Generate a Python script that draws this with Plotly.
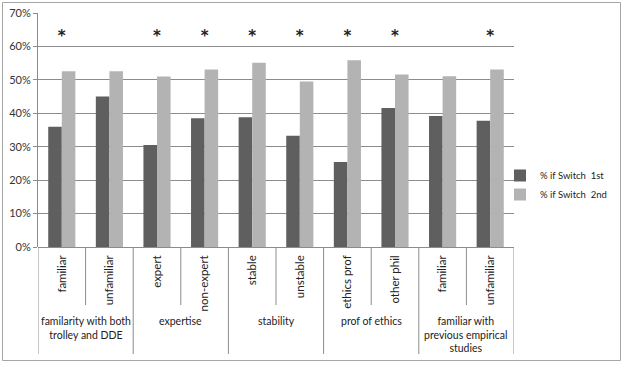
import plotly.graph_objects as go

sub_labels = ["familiar", "unfamiliar", "expert", "non-expert", "stable", "unstable",
              "ethics prof", "other phil", "familiar", "unfamiliar"]
group_labels = ["familarity with both<br>trolley and DDE", "expertise", "stability",
                "prof of ethics", "familiar with<br>previous empirical<br>studies"]
group_sizes = [2, 2, 2, 2, 2]
switch_1st = [0.360, 0.450, 0.305, 0.385, 0.388, 0.333, 0.254, 0.416, 0.392, 0.378]
switch_2nd = [0.526, 0.526, 0.510, 0.531, 0.551, 0.495, 0.559, 0.516, 0.511, 0.531]
significant = [True, False, True, True, True, True, True, True, False, True]
star_level = 0.626
series_names = ["% if Switch &nbsp;1st", "% if Switch &nbsp;2nd"]

W, H = 623, 386
L, R, T, B = 38, 109, 13, 139
PH = H - T - B
PW = W - L - R
FONT = "Lato"

xs = list(range(len(sub_labels)))

fig = go.Figure()
fig.add_trace(go.Bar(x=xs, y=switch_1st, name=series_names[0],
                     marker=dict(color="#5f5f5f", line=dict(width=0))))
fig.add_trace(go.Bar(x=xs, y=switch_2nd, name=series_names[1],
                     marker=dict(color="#b3b3b3", line=dict(width=0))))
fig.add_trace(go.Scatter(x=[x for x, s in zip(xs, significant) if s],
                         y=[star_level for s in significant if s],
                         mode="text", text=["<b>*</b>"] * sum(significant),
                         textfont=dict(size=15, color="#222222", family="DejaVu Sans"),
                         showlegend=False, hoverinfo="skip"))

def py(pix):
    return (H - B - pix) / PH

def px(pix):
    return (pix - L) / PW

shapes = []
bounds = [-0.5]
acc = -0.5
for g in group_sizes:
    acc += g
    bounds.append(acc)
for i in range(len(sub_labels) + 1):
    xb = i - 0.5
    long = xb in bounds
    shapes.append(dict(type="line", xref="x", yref="paper", x0=xb, x1=xb,
                       y0=0, y1=py(354 if long else 305),
                       line=dict(color="#8c8c8c", width=1)))
shapes.append(dict(type="rect", xref="paper", yref="paper",
                   x0=px(2.5), x1=px(620.5), y0=py(2.5), y1=py(360.5),
                   line=dict(color="#a6a6a6", width=1), layer="below"))

annotations = []
start = 0
for g, lab in zip(group_sizes, group_labels):
    cx = start + (g - 1) / 2
    annotations.append(dict(x=cx, y=py(313), xref="x", yref="paper", text=lab,
                            showarrow=False, yanchor="top", xanchor="center",
                            font=dict(family=FONT, size=10.5, color="#222222")))
    start += g

fig.update_layout(
    width=W, height=H,
    margin=dict(l=L, r=R, t=T, b=B, autoexpand=False),
    paper_bgcolor="white", plot_bgcolor="white",
    barmode="group", bargap=0.43, bargroupgap=0,
    font=dict(family=FONT, size=11, color="#222222"),
    showlegend=True,
    legend=dict(x=px(500), y=py(161), xanchor="left", yanchor="top",
                font=dict(family=FONT, size=9.5, color="#222222"),
                bgcolor="rgba(0,0,0,0)", itemwidth=30, tracegroupgap=0),
    shapes=shapes, annotations=annotations,
    xaxis=dict(range=[-0.5, len(sub_labels) - 0.5], tickmode="array",
               tickvals=xs, ticktext=sub_labels, tickangle=-90,
               showgrid=False, zeroline=False, showline=False, ticks="",
               ticklabelstandoff=5, automargin=False,
               tickfont=dict(family=FONT, size=11.5, color="#222222")),
    yaxis=dict(range=[0, 0.7], dtick=0.1, tickformat=".0%",
               showgrid=True, gridcolor="#8c8c8c", gridwidth=1,
               zeroline=True, zerolinecolor="#8c8c8c", zerolinewidth=1,
               showline=True, linecolor="#8c8c8c", linewidth=1,
               ticks="outside", ticklen=4, tickcolor="#8c8c8c", automargin=False,
               tickfont=dict(family=FONT, size=11, color="#333333")),
)

fig.write_html("out.html", config={"displayModeBar": False},
               post_script="document.body.style.margin='0px';")
